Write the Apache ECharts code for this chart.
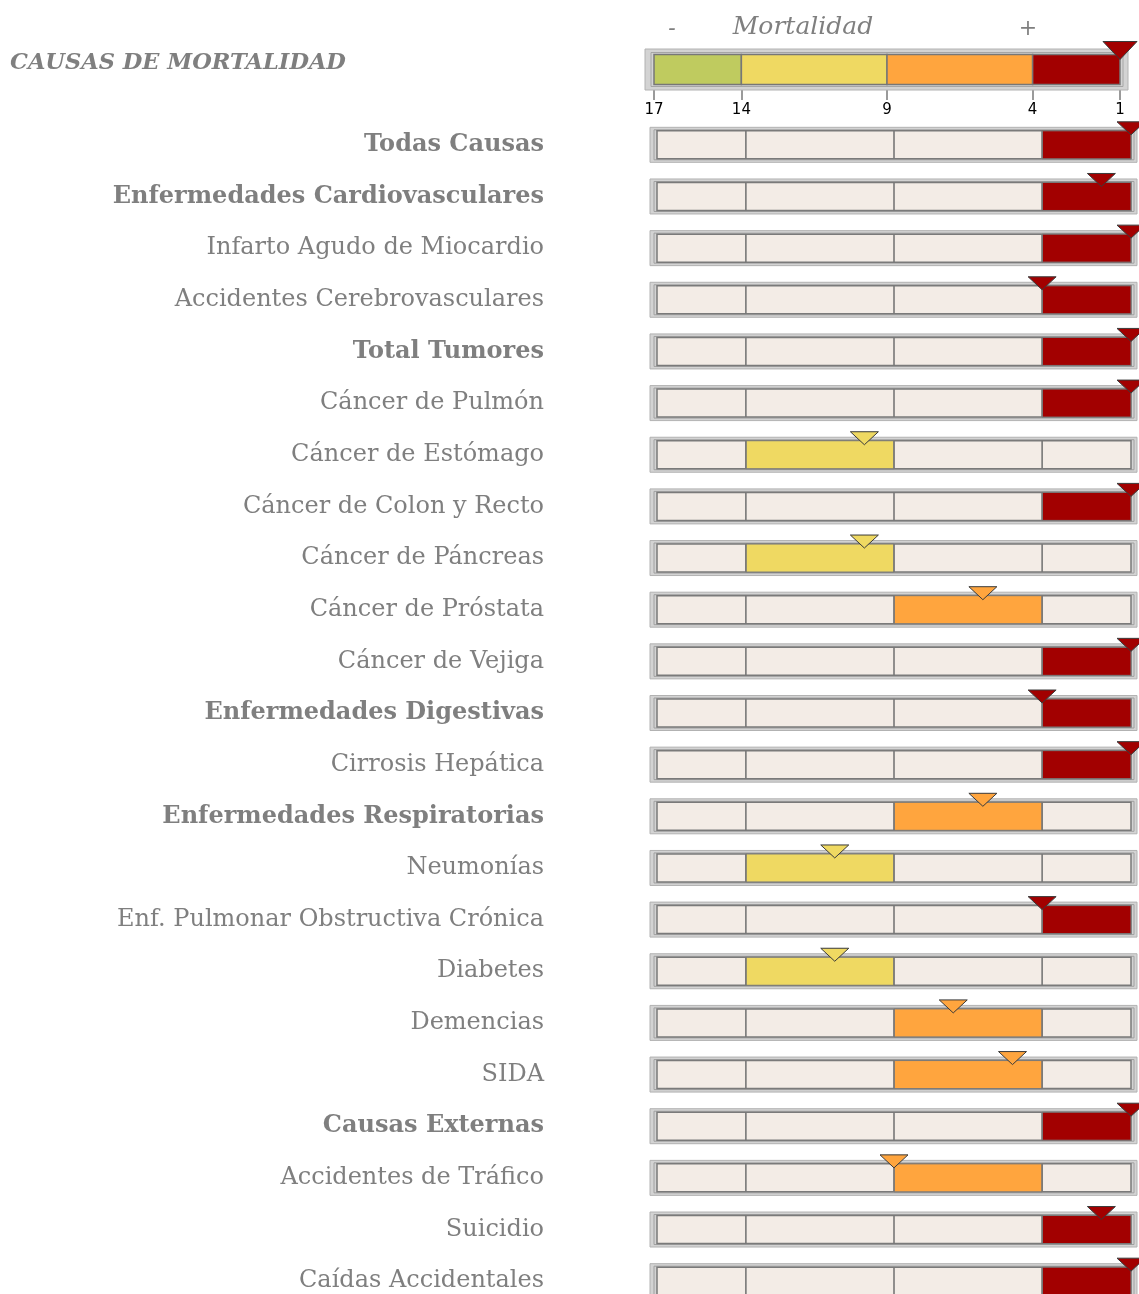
<!DOCTYPE html>
<html><head><meta charset="utf-8">
<script src="https://cdn.jsdelivr.net/npm/echarts@6/dist/echarts.min.js"></script>
<style>html,body{margin:0;padding:0;background:#fff}#c{width:1139px;height:1294px}</style>
</head><body><div id="c"></div>
<script>
// ---- data ----
const causes = [
  'Todas Causas', 'Enfermedades Cardiovasculares', 'Infarto Agudo de Miocardio',
  'Accidentes Cerebrovasculares', 'Total Tumores', 'Cáncer de Pulmón',
  'Cáncer de Estómago', 'Cáncer de Colon y Recto', 'Cáncer de Páncreas',
  'Cáncer de Próstata', 'Cáncer de Vejiga', 'Enfermedades Digestivas',
  'Cirrosis Hepática', 'Enfermedades Respiratorias', 'Neumonías',
  'Enf. Pulmonar Obstructiva Crónica', 'Diabetes', 'Demencias', 'SIDA',
  'Causas Externas', 'Accidentes de Tráfico', 'Suicidio', 'Caídas Accidentales'
];
const ranks = [1, 2, 1, 4, 1, 1, 10, 1, 10, 6, 1, 4, 1, 6, 11, 4, 11, 7, 5, 1, 9, 2, 1];
const groupCauses = ['Todas Causas', 'Enfermedades Cardiovasculares', 'Total Tumores',
  'Enfermedades Digestivas', 'Enfermedades Respiratorias', 'Causas Externas'];
const scaleTicks = [17, 14, 9, 4, 1];
const bandColors = ['#BFCB5F', '#EFD962', '#FFA53E', '#A20000'];
const headerRank = 1;

// ---- helpers ----
function bandOf(v) {
  for (let i = 0; i < scaleTicks.length - 2; i++) {
    if (v > scaleTicks[i + 1]) return i;
  }
  return scaleTicks.length - 2;
}
const SERIF = 'DejaVu Serif';
const GREY = '#7f7f7f';

function rowItem(params, api) {
  const idx = api.value(0), v = api.value(1);
  const c = api.coord([scaleTicks[0], idx]);
  const xL = c[0], yc = c[1];
  const xR = api.coord([scaleTicks[scaleTicks.length - 1], idx])[0];
  const hOut = 35, hIn = 28;
  const b = bandOf(v);
  const xb0 = api.coord([scaleTicks[b], idx])[0];
  const xb1 = api.coord([scaleTicks[b + 1], idx])[0];
  const xm = api.coord([v, idx])[0];
  const yTop = yc - hIn / 2;
  const kids = [
    { type: 'rect', shape: { x: xL - 7, y: yc - hOut / 2, width: xR - xL + 13, height: hOut },
      style: { fill: '#d3d3d3', stroke: '#b2b2b2', lineWidth: 1 } },
    { type: 'rect', shape: { x: xL - 3, y: yTop - 1, width: xR - xL + 6, height: hIn + 2 },
      style: { fill: 'none', stroke: '#a0a0a0', lineWidth: 1 } },
    { type: 'rect', shape: { x: xL, y: yTop, width: xR - xL, height: hIn },
      style: { fill: '#F3ECE6', stroke: '#7a7a7a', lineWidth: 1.5 } },
    { type: 'rect', shape: { x: xb0, y: yTop, width: xb1 - xb0, height: hIn },
      style: { fill: bandColors[b], stroke: '#7a7a7a', lineWidth: 1 } }
  ];
  for (let i = 1; i < scaleTicks.length - 1; i++) {
    const x = api.coord([scaleTicks[i], idx])[0];
    kids.push({ type: 'line', shape: { x1: x, y1: yTop, x2: x, y2: yTop + hIn },
      style: { stroke: '#777', lineWidth: 1.6 } });
  }
  kids.push({ type: 'polygon', shape: { points: [[xm - 14, yTop - 9], [xm + 14, yTop - 9], [xm, yTop + 4]] },
    style: { fill: bandColors[b], stroke: '#3a3a3a', lineWidth: 1 } });
  return { type: 'group', children: kids };
}

function headerItem(params, api) {
  const v = api.value(1);
  const c = api.coord([scaleTicks[0], 0]);
  const xL = c[0], yc = c[1];
  const xR = api.coord([scaleTicks[scaleTicks.length - 1], 0])[0];
  const hOut = 41, hIn = 30;
  const yTop = yc - hIn / 2;
  const kids = [
    { type: 'rect', shape: { x: xL - 9, y: yc - hOut / 2, width: xR - xL + 17, height: hOut },
      style: { fill: '#d3d3d3', stroke: '#b2b2b2', lineWidth: 1 } },
    { type: 'rect', shape: { x: xL - 3, y: yTop - 2, width: xR - xL + 6, height: hIn + 4 },
      style: { fill: 'none', stroke: '#a5a5a5', lineWidth: 1 } }
  ];
  for (let b = 0; b < scaleTicks.length - 1; b++) {
    const x0 = api.coord([scaleTicks[b], 0])[0], x1 = api.coord([scaleTicks[b + 1], 0])[0];
    kids.push({ type: 'rect', shape: { x: x0, y: yTop, width: x1 - x0, height: hIn },
      style: { fill: bandColors[b], stroke: '#777', lineWidth: 1.5 } });
  }
  const xm = api.coord([v, 0])[0];
  const b = bandOf(v);
  kids.push({ type: 'polygon', shape: { points: [[xm - 17, yTop - 13], [xm + 17, yTop - 13], [xm, yTop + 5]] },
    style: { fill: bandColors[b], stroke: '#3a3a3a', lineWidth: 1 } });
  return { type: 'group', children: kids };
}

const chart = echarts.init(document.getElementById('c'), null, { renderer: 'canvas' });
chart.setOption({
  animation: false,
  backgroundColor: '#ffffff',
  grid: [
    { left: 654, right: 19, top: 49, height: 41, outerBoundsMode: 'none', containLabel: false },
    { left: 657, right: 8, top: 119, height: 1188, outerBoundsMode: 'none', containLabel: false }
  ],
  xAxis: [
    { gridIndex: 0, type: 'value', min: 1, max: 17, inverse: true,
      splitLine: { show: false }, axisLine: { show: false },
      axisTick: { show: true, customValues: scaleTicks, length: 10, lineStyle: { color: '#9a9a9a', width: 2 } },
      axisLabel: { show: true, customValues: scaleTicks, color: '#000', fontFamily: 'DejaVu Sans',
        fontSize: 15, margin: 13 } },
    { gridIndex: 1, type: 'value', min: 1, max: 17, inverse: true, show: false }
  ],
  yAxis: [
    { gridIndex: 0, type: 'category', data: ['header'], show: false },
    { gridIndex: 1, type: 'category', data: causes, inverse: true,
      axisLine: { show: false }, axisTick: { show: false },
      axisLabel: {
        interval: 0, margin: 113,
        formatter: v => groupCauses.includes(v) ? '{g|' + v + '}' : '{n|' + v + '}',
        rich: {
          g: { fontFamily: SERIF, fontWeight: 'bold', fontSize: 24, color: GREY },
          n: { fontFamily: SERIF, fontSize: 24, color: GREY }
        }
      } }
  ],
  series: [
    { type: 'custom', xAxisIndex: 0, yAxisIndex: 0, renderItem: headerItem,
      data: [[0, headerRank]], clip: false },
    { type: 'custom', xAxisIndex: 1, yAxisIndex: 1, renderItem: rowItem,
      data: ranks.map((r, i) => [i, r]), clip: false }
  ],
  graphic: [
    { type: 'text', x: 10, y: 63, style: { text: 'CAUSAS DE MORTALIDAD', fill: GREY, verticalAlign: 'middle',
      font: 'italic bold 22.5px "' + SERIF + '"' } },
    { type: 'text', x: 803, y: 27, style: { text: 'Mortalidad', fill: GREY, align: 'center', verticalAlign: 'middle',
      font: 'italic 25px "' + SERIF + '"' } },
    { type: 'text', x: 672, y: 29, style: { text: '-', fill: GREY, align: 'center', verticalAlign: 'middle',
      font: 'italic 22px "' + SERIF + '"' } },
    { type: 'text', x: 1028, y: 29, style: { text: '+', fill: GREY, align: 'center', verticalAlign: 'middle',
      font: 'italic 22px "' + SERIF + '"' } }
  ]
});
</script>
</body></html>
